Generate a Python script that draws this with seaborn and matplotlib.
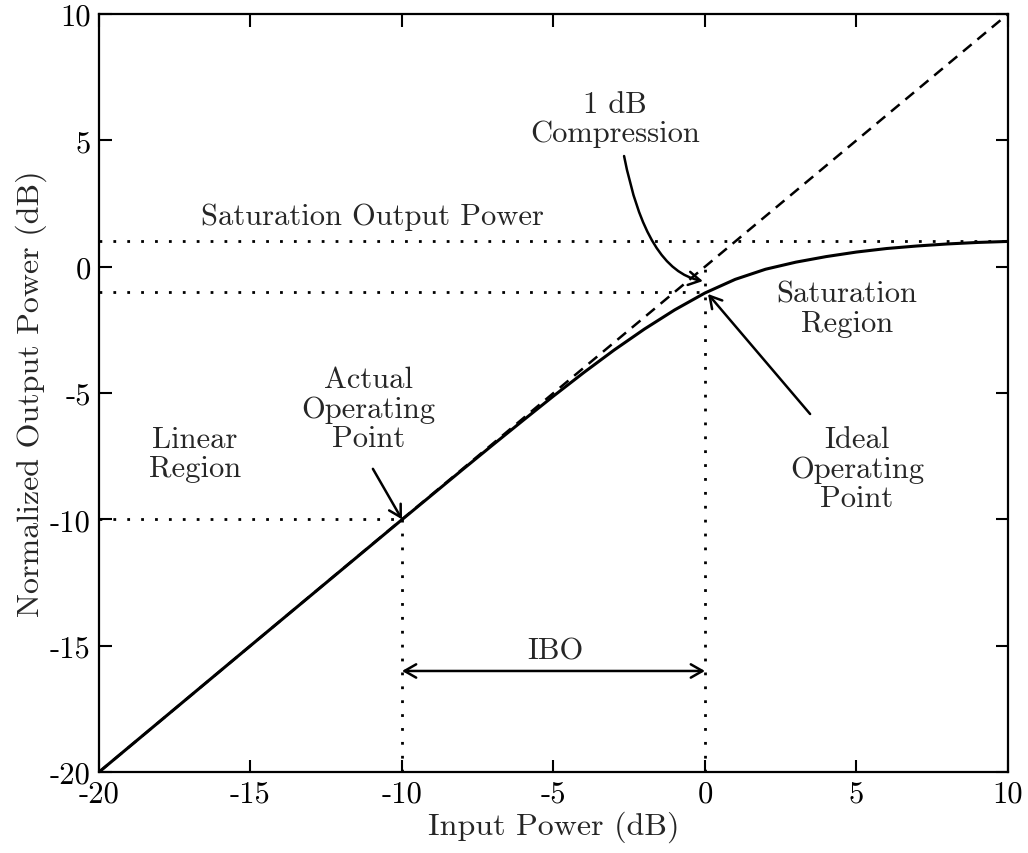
import numpy as np
import pandas as pd
import matplotlib
matplotlib.use("Agg")
import matplotlib.pyplot as plt
import seaborn as sns

# Data
input_db = [-20, -15, -10, -8, -7, -6, -5, -4, -3, -2, -1, 0, 1, 2, 3, 4, 5, 6, 7, 8, 9, 10]
output_db = [-20.0, -15.0, -10.01, -8.03, -7.05, -6.08, -5.12, -4.19, -3.3, -2.47, -1.71, -1.04,
             -0.5, -0.1, 0.18, 0.4, 0.58, 0.72, 0.82, 0.9, 0.96, 1.0]
ideal_x = [-20, 10]
ideal_y = [-20, 10]
sat_level = 1.0
comp_level = -1.0
actual_op = (-10, -10)
ideal_op_x = 0
tick_vals = [-20, -15, -10, -5, 0, 5, 10]
tick_labels = ["-20", "-15", "-10", "-5", "0", "5", "10"]
ytick_vals = [-20, -15, -10, -5, 0, 5, 10]
ytick_labels = ["-20", "-15", "-10", "-5", "0", "5", "10"]

sns.set_theme(style="ticks")
plt.rcParams["font.family"] = ["cmr10", "DejaVu Serif"]
plt.rcParams["mathtext.fontset"] = "cm"
plt.rcParams["axes.formatter.use_mathtext"] = True

fig = plt.figure(figsize=(10.28, 8.54), dpi=100)
ax = fig.add_axes([0.0963, 0.0948, 0.9805 - 0.0963, 0.9824 - 0.0948])

df = pd.DataFrame({"x": input_db, "y": output_db})
ax.plot(ideal_x, ideal_y, color="black", lw=1.8, ls=(0, (4.5, 3)))
sns.lineplot(data=df, x="x", y="y", ax=ax, color="black", lw=2.2, zorder=3)

dot = dict(color="black", lw=2.0, ls=(0, (1, 4)))
ax.plot([-20, 10], [sat_level, sat_level], **dot)
ax.plot([-20, ideal_op_x], [comp_level, comp_level], **dot)
ax.plot([-20, actual_op[0]], [actual_op[1], actual_op[1]], **dot)
ax.plot([actual_op[0], actual_op[0]], [-20, actual_op[1]], **dot)
ax.plot([ideal_op_x, ideal_op_x], [-20, 0], **dot)

ax.set_xlim(-20, 10)
ax.set_ylim(-20, 10)
ax.set_xticks(tick_vals)
ax.set_xticklabels(tick_labels)
ax.set_yticks(ytick_vals)
ax.set_yticklabels(ytick_labels)
ax.tick_params(direction="in", length=9, width=1.5, top=True, right=True,
               labelsize=22, pad=6, colors="black")
for s in ax.spines.values():
    s.set_linewidth(1.6)
    s.set_color("black")
ax.set_xlabel("Input Power (dB)", fontsize=23, labelpad=2)
ax.set_ylabel("Normalized Output Power (dB)", fontsize=23, labelpad=2)

fs = 22
ls_ = 1.1
ax.text(-2.97, 5.85, "1 dB\nCompression", ha="center", va="center", fontsize=fs, linespacing=ls_)
ax.text(-10.96, 2.0, "Saturation Output Power", ha="center", va="center", fontsize=fs)
ax.text(4.69, -1.67, "Saturation\nRegion", ha="center", va="center", fontsize=fs, linespacing=ls_)
ax.text(5.02, -8.0, "Ideal\nOperating\nPoint", ha="center", va="center", fontsize=fs, linespacing=ls_)
ax.text(-11.1, -5.63, "Actual\nOperating\nPoint", ha="center", va="center", fontsize=fs, linespacing=ls_)
ax.text(-16.83, -7.4, "Linear\nRegion", ha="center", va="center", fontsize=fs, linespacing=ls_)
ax.text(-4.95, -15.2, "IBO", ha="center", va="center", fontsize=fs)

arr = dict(arrowstyle="->,head_length=0.7,head_width=0.4", color="black", lw=1.8,
           shrinkA=0, shrinkB=0)
ax.annotate("", xy=(-0.07, -0.57), xytext=(-2.67, 4.38),
            arrowprops=dict(connectionstyle="angle3,angleA=-79,angleB=-11", **arr))
ax.annotate("", xy=(0.1, -1.08), xytext=(3.47, -5.83), arrowprops=dict(**arr))
ax.annotate("", xy=(-10.0, -10.0), xytext=(-10.96, -8.0), arrowprops=dict(**arr))
ax.annotate("", xy=(0, -16.0), xytext=(-10, -16.0),
            arrowprops=dict(arrowstyle="<->,head_length=0.7,head_width=0.4", color="black",
                            lw=1.8, shrinkA=0, shrinkB=0))

fig.savefig("out.png", dpi=100)
